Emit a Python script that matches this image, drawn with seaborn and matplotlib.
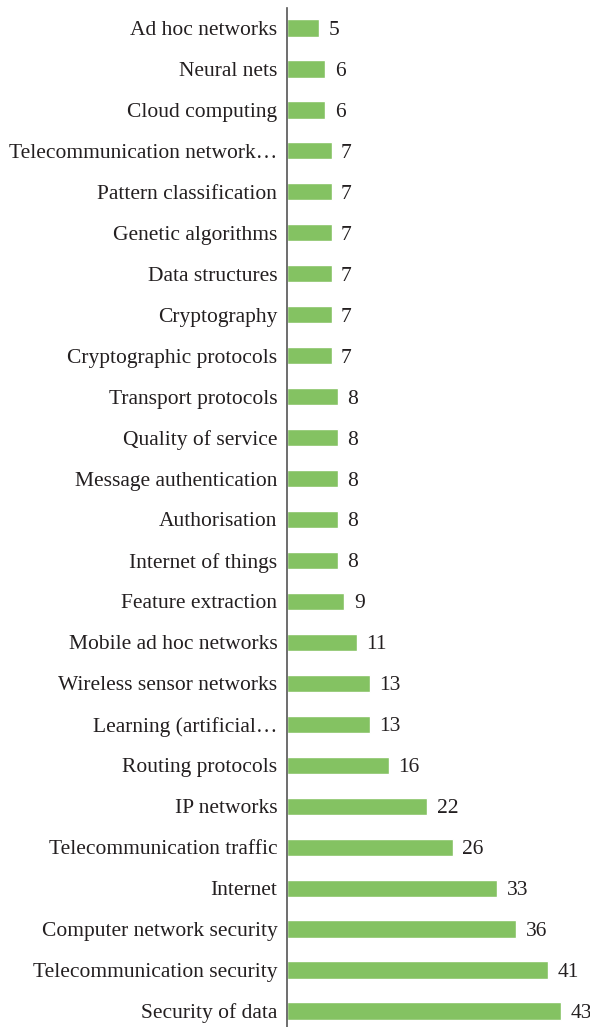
import pandas as pd
import matplotlib.pyplot as plt
import seaborn as sns

# Keyword frequencies, top to bottom as in the chart
keywords = [
    "Ad hoc networks", "Neural nets", "Cloud computing",
    "Telecommunication network\u2026", "Pattern classification",
    "Genetic algorithms", "Data structures", "Cryptography",
    "Cryptographic protocols", "Transport protocols", "Quality of service",
    "Message authentication", "Authorisation", "Internet of things",
    "Feature extraction", "Mobile ad hoc networks", "Wireless sensor networks",
    "Learning (artificial\u2026", "Routing protocols", "IP networks",
    "Telecommunication traffic", "Internet", "Computer network security",
    "Telecommunication security", "Security of data",
]
counts = [5, 6, 6, 7, 7, 7, 7, 7, 7, 8, 8, 8, 8, 8, 9, 11, 13, 13, 16, 22,
          26, 33, 36, 41, 43]

df = pd.DataFrame({"keyword": keywords, "count": counts})

sns.set_style("white")
plt.rcParams["font.family"] = ["Liberation Serif", "DejaVu Serif"]

fig = plt.figure(figsize=(5.9, 10.27), dpi=100)
ax = fig.add_axes([287 / 590, -4.5 / 1027, 303 / 590, 1024 / 1027])

sns.barplot(data=df, x="count", y="keyword", color="#84C262", saturation=1,
            width=0.42, ax=ax)

for i, v in enumerate(counts):
    ax.text(v + 1.5, i, str(v), va="center_baseline", ha="left",
            fontsize=15.5, color="#231F20")

ax.set_xlim(0, 47.6)
ax.set_ylim(24.5, -0.5)
ax.set_xlabel("")
ax.set_ylabel("")
ax.set_xticks([])
ax.tick_params(axis="y", length=0, pad=7, labelsize=15.5, labelcolor="#231F20")
for lab in ax.get_yticklabels():
    lab.set_verticalalignment("center_baseline")
for s in ["top", "right", "bottom"]:
    ax.spines[s].set_visible(False)
ax.spines["left"].set_color("#555555")
ax.spines["left"].set_linewidth(1.2)

fig.savefig("out.png", dpi=100)
